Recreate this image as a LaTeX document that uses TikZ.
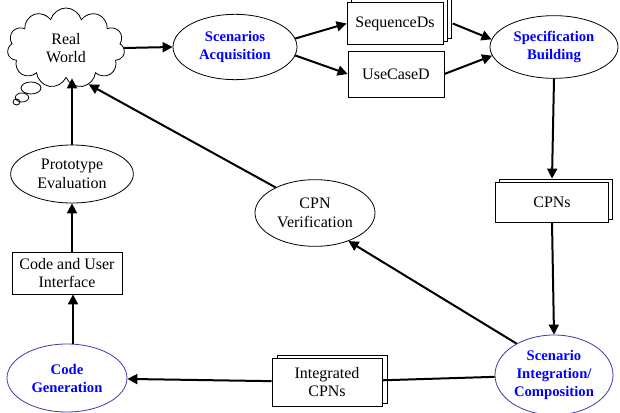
\documentclass[tikz,border=0pt]{standalone}
\usepackage{fontspec}
\setmainfont{Liberation Serif}
\usetikzlibrary{arrows.meta,shapes,shadows}
\definecolor{stageline}{RGB}{60,60,170}
\tikzset{every picture/.style={/utils/exec={\fontsize{12}{14}\selectfont}}}
\tikzset{ell/.style={draw,ellipse,inner sep=0pt,align=center,line width=0.6pt,fill=white}}
\tikzset{task/.style={ell,text=blue,font=\bfseries\fontsize{11}{13.5}\selectfont}}
\tikzset{doc/.style={draw,rectangle,inner sep=0pt,align=center,line width=0.6pt,fill=white}}
\tikzset{flow/.style={-{Triangle[length=7.5pt,width=7.5pt]},line width=1.5pt}}

\begin{document}
\begin{tikzpicture}[x=0.75pt,y=-0.75pt]
    \useasboundingbox (0,0) rectangle (620,413);
    \draw [line width=0.6pt] (31,88) ellipse [x radius=7.5pt, y radius=4.5pt];
    \draw [line width=0.6pt] (22,97.5) ellipse [x radius=5pt, y radius=3.4pt];
    \draw [line width=0.6pt] (16.5,102) ellipse [x radius=2.6pt, y radius=2.2pt];
    \node [draw,cloud,cloud puffs=11,cloud ignores aspect,minimum width=88pt,minimum height=60pt,
           align=center,line width=0.6pt,fill=white] at (66,48) (world) {Real\\World};
    \node [task,minimum width=93pt,minimum height=49pt] at (235,47) (acq) {Scenarios\\Acquisition};
    \node [doc,double copy shadow={shadow xshift=3pt,shadow yshift=2.25pt},minimum width=72pt,minimum height=32pt] at (395,23.5) (seq) {SequenceDs};
    \node [doc,minimum width=72pt,minimum height=34.5pt] at (396,74) (usecase) {UseCaseD};
    \node [task,minimum width=96pt,minimum height=47pt] at (554,47) (spec) {Specification\\Building};
    \node [doc,copy shadow={shadow xshift=3pt,shadow yshift=2.25pt},minimum width=85pt,minimum height=30pt] at (552,202) (cpns) {CPNs};
    \node [task,draw=stageline,minimum width=88.5pt,minimum height=60pt] at (554,375) (integ) {Scenario\\Integration/\\Composition};
    \node [ell,minimum width=90pt,minimum height=50pt] at (315,213) (verif) {CPN\\Verification};
    \node [doc,copy shadow={shadow xshift=3.75pt,shadow yshift=2.25pt},minimum width=82.5pt,minimum height=36pt] at (327,382) (intcpn) {Integrated\\CPNs};
    \node [task,draw=stageline,minimum width=90pt,minimum height=51pt] at (67,378) (codegen) {Code\\Generation};
    \node [doc,minimum width=82.5pt,minimum height=31.5pt] at (67,273) (codeui) {Code and User\\Interface};
    \node [ell,minimum width=92pt,minimum height=43.5pt] at (72,174) (proto) {Prototype\\Evaluation};

    \draw [flow] (world.east) -- (acq.west);
    \draw [flow] (acq.8) -- (seq.west);
    \draw [flow] (acq.-8) -- (usecase.west);
    \draw [flow] ([xshift=7pt]seq.east) -- (spec.173);
    \draw [flow] (usecase.east) -- (spec.188);
    \draw [flow] (spec.south) -- ([yshift=2.25pt]cpns.north);
    \draw [flow] (cpns.south) -- (integ.north);
    \draw [flow] (integ.140) -- (verif.-40);
    \draw [line width=1.5pt] (integ) -- (intcpn);
    \draw [flow] (intcpn) -- (codegen);
    \draw [flow] ([xshift=4.5pt]codegen.north) -- ([xshift=4.5pt]codeui.south);
    \draw [flow] ([xshift=3.75pt]codeui.north) -- (proto.south);
    \draw [flow] (proto.north) -- (proto.north |- world.south);
    \draw [flow] (verif.147) -- (world.-58);
\end{tikzpicture}
\end{document}
